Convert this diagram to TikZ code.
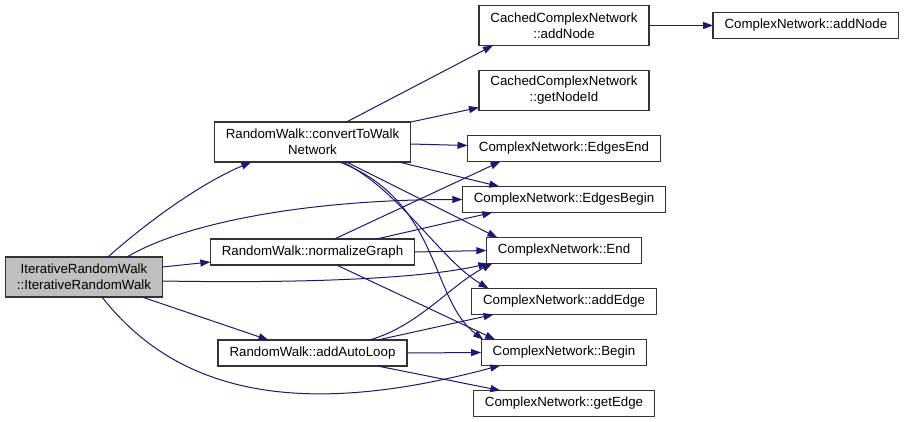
\documentclass[tikz,border=0pt]{standalone}
\usepackage{fontspec}
\setmainfont{Liberation Sans}
\usetikzlibrary{positioning, arrows.meta}
\definecolor{callblue}{RGB}{25,25,112}

\begin{document}
\begin{tikzpicture}[
    x=1pt, y=-1pt,
    node distance = 25pt and 64pt,
    box/.style = {rectangle, draw=black!80, fill=white, align=center, font=\fontsize{13.3}{16}\selectfont, inner xsep=11.5pt, inner ysep=4pt, outer sep=0pt, minimum height=26pt, line width=1.2pt},
    tall/.style = {box, minimum height=40pt},
    focus/.style = {tall, fill=black!25},
    arrow/.style = {-{Triangle[length=10pt, width=7pt]}, color=callblue, line width=1pt}
]
    \useasboundingbox (0,0) rectangle (904,422);

    \node[focus] (IRW) at (84,277) {IterativeRandomWalk\\::IterativeRandomWalk};

    \node[tall] (CONV) at (312.5,142) {RandomWalk::convertToWalk\\Network};
    \node[box, below=77pt of CONV] (NORM) {RandomWalk::normalizeGraph};
    \node[box, below=75pt of NORM] (LOOP) {RandomWalk::addAutoLoop};

    \node[tall] (CADD) at (564,25.5) {CachedComplexNetwork\\::addNode};
    \node[tall, below=of CADD] (CID) {CachedComplexNetwork\\::getNodeId};
    \node[box, below=of CID] (EEND) {ComplexNetwork::EdgesEnd};
    \node[box, below=of EEND] (EBEG) {ComplexNetwork::EdgesBegin};
    \node[box, below=of EBEG] (END) {ComplexNetwork::End};
    \node[box, below=of END] (ADDE) {ComplexNetwork::addEdge};
    \node[box, below=of ADDE] (BEG) {ComplexNetwork::Begin};
    \node[box, below=of BEG] (GETE) {ComplexNetwork::getEdge};

    \node[box, right=of CADD] (ADDN) {ComplexNetwork::addNode};

    % calls of the constructor
    \draw[arrow] ([xshift=24pt]IRW.north) to[out=42, in=203, out distance=43pt, in distance=60pt] ([xshift=37pt]CONV.south west);
    \draw[arrow] ([xshift=43pt]IRW.north) to[out=31, in=180, out distance=62pt, in distance=163pt] (EBEG.west);
    \draw[arrow] ([yshift=10pt]IRW.east) -- ([yshift=-10pt]NORM.west);
    \draw[arrow] ([yshift=-4pt]IRW.east) to[out=-1, in=193, out distance=137pt, in distance=69pt] ([xshift=2pt]END.south west);
    \draw[arrow] ([xshift=58pt]IRW.south) -- ([xshift=-44pt]LOOP.north);
    \draw[arrow] ([xshift=18pt]IRW.south) to[out=-52, in=195, out distance=130pt, in distance=196pt] ([xshift=19pt]BEG.south west);

    % calls of convertToWalkNetwork
    \draw[arrow] ([xshift=34pt]CONV.north) -- ([xshift=14pt]CADD.south west);
    \draw[arrow] (CONV.north east) -- ([yshift=3pt]CID.south west);
    \draw[arrow] ([yshift=-2pt]CONV.east) -- ([yshift=3pt]EEND.west);
    \draw[arrow] ([xshift=-12pt]CONV.south east) -- ([xshift=37pt]EBEG.north west);
    \draw[arrow] ([xshift=34pt]CONV.south) -- ([xshift=11pt]END.north west);
    \draw[arrow] ([xshift=30pt]CONV.south) to[out=-26, in=149, out distance=63pt, in distance=56pt] ([xshift=17pt]ADDE.north west);
    \draw[arrow] ([xshift=27pt]CONV.south) to[out=-21, in=143, out distance=108pt, in distance=66pt] ([xshift=2pt]BEG.north west);

    % calls of normalizeGraph
    \draw[arrow] ([xshift=22pt]NORM.north) -- ([xshift=33pt]EEND.south west);
    \draw[arrow] ([xshift=64pt]NORM.north) -- ([xshift=30pt]EBEG.south west);
    \draw[arrow] (NORM.east) -- (END.west);
    \draw[arrow] ([xshift=24pt]NORM.south) -- ([xshift=14pt]BEG.north west);

    % calls of addAutoLoop
    \draw[arrow] ([xshift=57pt]LOOP.north) to[out=16, in=207, out distance=52pt, in distance=47pt] ([xshift=6pt]END.south west);
    \draw[arrow] ([xshift=65pt]LOOP.north) -- ([xshift=22pt]ADDE.south west);
    \draw[arrow] (LOOP.east) -- (BEG.west);
    \draw[arrow] ([xshift=65pt]LOOP.south) -- ([xshift=27pt]GETE.north west);

    \draw[arrow] (CADD) -- (ADDN);
\end{tikzpicture}
\end{document}
